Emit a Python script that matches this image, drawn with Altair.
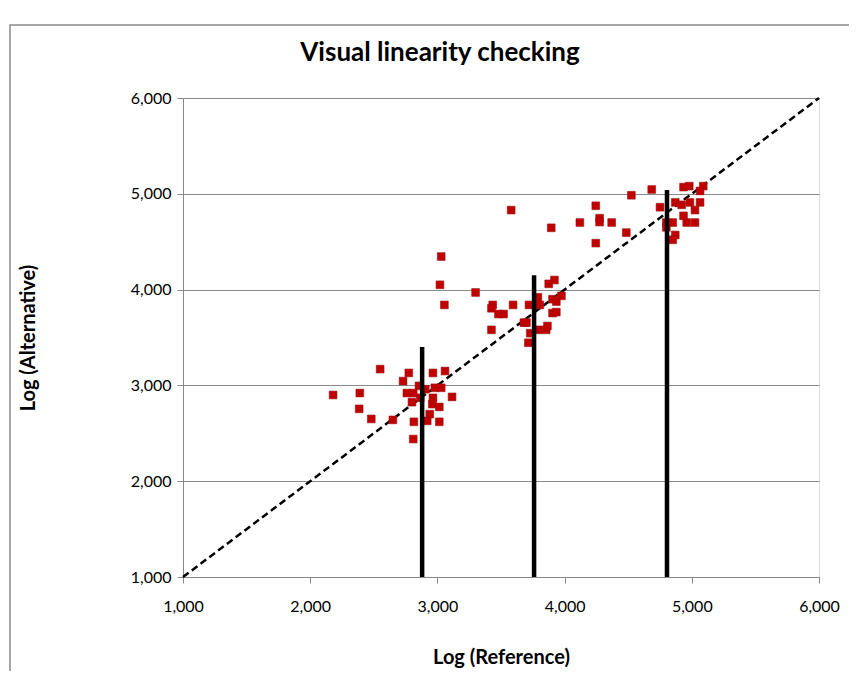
import altair as alt
import pandas as pd

ref_x = [2180, 2390, 2385, 2480, 2550, 2650, 2730, 2775, 2760, 2810, 2800, 2810, 2815, 2855, 2905,
         2865, 2965, 3060, 2980, 3030, 3115, 2965, 2960, 3015, 2940, 2920, 3015,
         3030, 3020, 3055, 3300, 3435, 3425, 3480, 3520, 3595, 3425, 3720, 3790, 3805, 3680, 3700,
         3730, 3715, 3795, 3855, 3865, 3875, 3920, 3905, 3935, 3975, 3905, 3935, 3580, 3895,
         4525, 4685, 4245, 4120, 4275, 4275, 4370, 4245, 4485, 4750, 4935, 4980, 5090, 5065, 4870,
         4920, 4985, 5065, 5025, 4935, 4960, 5025, 4800, 4850, 4800, 4870, 4850]
alt_y = [2900, 2920, 2755, 2650, 3170, 2640, 3045, 3130, 2920, 2920, 2825, 2440, 2620, 2995, 2960,
         2870, 3130, 3150, 2975, 2975, 2880, 2870, 2805, 2775, 2700, 2630, 2620,
         4345, 4050, 3840, 3970, 3840, 3805, 3745, 3745, 3840, 3580, 3840, 3920, 3840, 3655, 3655,
         3545, 3445, 3580, 3580, 3620, 4060, 4100, 3900, 3875, 3935, 3755, 3765, 4830, 4645,
         4985, 5045, 4875, 4700, 4745, 4705, 4700, 4485, 4595, 4860, 5070, 5080, 5080, 5030, 4910,
         4885, 4910, 4910, 4830, 4770, 4700, 4700, 4700, 4700, 4650, 4570, 4520]

mean_x = [2880, 3760, 4805]
mean_top = [3400, 4150, 5040]
mean_base = [1000, 1000, 1000]

diag_x = [1000, 6000]
diag_y = [1000, 6000]

tick_values = [1000, 2000, 3000, 4000, 5000, 6000]

FONT = "Lato"

pts = pd.DataFrame({"x": ref_x, "y": alt_y})
means = pd.DataFrame({"x": mean_x, "y": mean_base, "y2": mean_top})
diag = pd.DataFrame({"x": diag_x, "y": diag_y})

xscale = alt.Scale(domain=[1000, 6000], nice=False)
yscale = alt.Scale(domain=[1000, 6000], nice=False)

xaxis = alt.Axis(values=tick_values, format=",.0f", grid=False, labelFlush=False,
                 title="Log (Reference)", titleFont=FONT, titleFontSize=20, titleFontWeight="bold",
                 titleColor="#000000", labelFont=FONT, labelFontSize=16, labelColor="#000000",
                 labelPadding=15, tickSize=6, tickColor="#888888", domainColor="#888888",
                 titlePadding=33)
yaxis = alt.Axis(values=tick_values, format=",.0f", grid=True, labelFlush=False,
                 gridColor="#8c8c8c", gridWidth=1,
                 title="Log (Alternative)", titleFont=FONT, titleFontSize=20, titleFontWeight="bold",
                 titleColor="#000000", labelFont=FONT, labelFontSize=16, labelColor="#000000",
                 labelPadding=6, tickSize=6, tickColor="#888888", domainColor="#888888",
                 titlePadding=92)

frame = alt.Chart(pd.DataFrame({"a": [0]})).mark_rect(
    filled=False, stroke="#8a8a8a", strokeWidth=1.5
).encode(x=alt.value(-173), x2=alt.value(670), y=alt.value(-73), y2=alt.value(576))

line = alt.Chart(diag).mark_line(color="#000000", strokeWidth=2.5, strokeDash=[7, 4]).encode(
    x=alt.X("x:Q", scale=xscale, axis=xaxis),
    y=alt.Y("y:Q", scale=yscale, axis=yaxis),
)

bars = alt.Chart(means).mark_rule(color="#000000", strokeWidth=4.5).encode(
    x=alt.X("x:Q", scale=xscale),
    y=alt.Y("y:Q", scale=yscale),
    y2="y2:Q",
)

points = alt.Chart(pts).mark_square(size=60, color="#C00000", opacity=1,
                                    stroke="#A01010", strokeWidth=0.6).encode(
    x=alt.X("x:Q", scale=xscale),
    y=alt.Y("y:Q", scale=yscale),
)

chart = alt.layer(frame, line, points, bars).properties(
    width=636, height=479,
    autosize=alt.AutoSizeParams(type="none"),
    padding={"left": 175, "top": 90, "right": 30, "bottom": 94},
    title=alt.TitleParams("Visual linearity checking", font=FONT, fontSize=26, fontWeight="bold",
                          color="#000000", anchor="middle", frame="group", dx=-61, offset=-42),
).configure_view(stroke=None).configure(background="#ffffff")

chart.save("out.html", embed_options={"renderer": "svg", "actions": False})
